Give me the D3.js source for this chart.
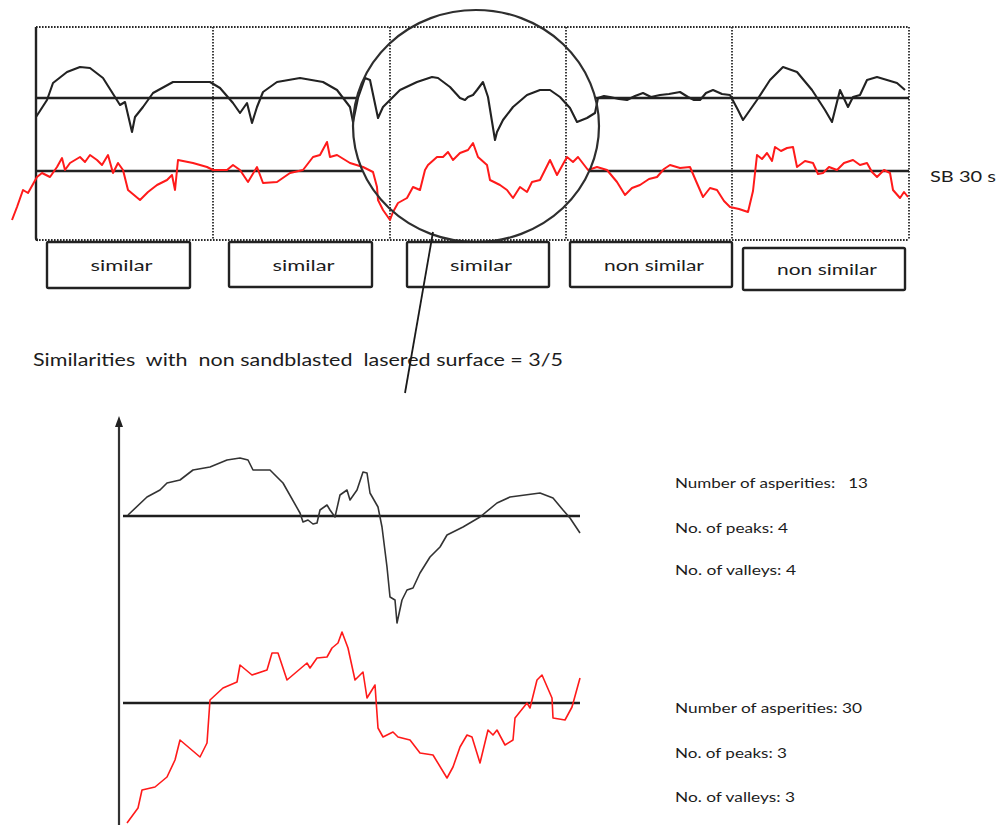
<!DOCTYPE html>
<html><head><meta charset="utf-8">
<script src="https://cdn.jsdelivr.net/npm/d3@7"></script>
<style>
html,body{margin:0;padding:0;background:#fff}
svg{display:block}
text{font-family:Lato,"Open Sans",sans-serif;fill:#1c1c1c;white-space:pre}
</style>
</head><body>
<svg id="c" width="1000" height="825"></svg>
<script>
// ---------- DATA ----------
// profile position (x) and height about the mean line (h), arbitrary units
const segmentEdges = [0, 177, 354, 530, 696, 873];
const segmentLabels = ["similar", "similar", "similar", "non similar", "non similar"];
const sampleLabel = "SB 30 s";
const summaryText = "Similarities  with  non sandblasted  lasered surface = 3/5";

const topBlack = [
  [0,-19],[11,-2],[17,15],[31,26],[44,31],[54,30],[67,20],[79,1],[84,-7],[89,-4],[96,-34],[99,-19],
  [107,-9],[117,5],[137,16],[157,16],[174,16],[184,10],[197,-5],[204,-15],[211,-5],[216,-25],[221,-9],
  [227,6],[241,16],[264,20],[287,16],[301,8],[314,-9],[317,-24],[322,0],[329,20],[334,18],[342,-20],
  [347,-9],[364,8],[381,16],[396,21],[402,20],[414,11],[424,0],[429,-2],[432,1],[437,3],[441,8],[447,16],
  [452,1],[459,-42],[461,-34],[467,-22],[477,-9],[491,3],[504,8],[514,8],[524,1],[534,-10],[541,-24],
  [551,-20],[559,-15],[562,0],[568,2],[574,1],[583,-1],[591,-2],[599,2],[607,5],[615,1],[624,3],
  [633,4],[644,6],[652,1],[658,-2],[664,-2],[670,5],[677,8],[686,4],[694,3],[702,-12],[707,-22],
  [714,-12],[721,-2],[734,18],[747,31],[761,26],[776,8],[789,-12],[796,-24],[804,8],[812,-9],[817,1],
  [824,3],[831,18],[841,21],[861,15],[869,8]
];
const topRed = [
  [-24,-49],[-19,-36],[-13,-19],[-8,-22],[1,-6],[6,-2],[14,-6],[21,4],[26,13],[29,1],[34,8],[44,14],
  [49,9],[54,16],[61,11],[66,6],[72,16],[77,-2],[82,8],[87,1],[92,-19],[104,-29],[112,-21],[121,-14],
  [131,-9],[136,-4],[139,-19],[142,11],[157,8],[171,4],[177,1],[191,1],[197,6],[204,1],[212,-11],
  [221,4],[227,-12],[241,-11],[254,-2],[267,1],[277,14],[284,16],[291,29],[294,14],[301,16],
  [314,8],[327,4],[337,-1],[341,-16],[342,-29],[347,-39],[354,-49],[357,-41],[362,-32],[371,-27],
  [377,-16],[384,-19],[389,1],[392,6],[401,14],[407,14],[412,19],[417,11],[424,18],[432,21],[437,28],
  [442,14],[451,6],[454,-9],[464,-14],[471,-19],[477,-27],[484,-16],[491,-21],[496,-11],[504,-9],
  [514,11],[521,-4],[531,14],[537,9],[542,14],[552,1],[561,4],[571,1],[581,-11],[589,-24],[596,-17],
  [604,-14],[613,-8],[621,-6],[628,2],[634,6],[644,3],[654,4],[660,-10],[667,-26],[674,-17],[681,-19],
  [688,-30],[694,-36],[703,-38],[712,-41],[717,-20],[721,16],[726,12],[731,18],[736,10],[739,24],
  [745,20],[751,23],[757,24],[761,4],[769,10],[777,8],[782,-3],[787,-2],[793,4],[801,1],[808,8],
  [817,11],[824,6],[831,8],[836,-1],[841,-6],[848,1],[854,-2],[857,-19],[864,-27],[868,-21],[872,-26]
];
const zoomBlack = [
  [5,1],[24,19],[37,26],[44,33],[57,36],[70,46],[87,49],[104,56],[117,58],[125,56],[130,46],[147,46],
  [160,33],[177,3],[180,-6],[185,-4],[190,-8],[194,-7],[197,6],[204,11],[207,6],[212,-1],[217,21],
  [224,26],[227,16],[234,26],[240,44],[244,43],[247,23],[255,9],[259,-11],[264,-51],[267,-81],
  [272,-84],[274,-107],[279,-84],[284,-74],[290,-72],[297,-57],[307,-41],[317,-31],[324,-19],
  [340,-11],[357,-1],[374,13],[387,19],[417,23],[430,18],[440,6],[447,-2],[457,-17]
];
const zoomRed = [
  [4,-120],[15,-105],[19,-87],[32,-84],[44,-74],[52,-57],[57,-37],[77,-54],[84,-40],[87,3],[100,15],
  [114,21],[117,38],[129,28],[144,33],[149,50],[155,50],[164,23],[184,40],[187,35],[194,45],[204,46],
  [209,55],[215,60],[219,71],[225,55],[232,23],[240,31],[244,5],[252,18],[255,-25],[260,-34],[270,-29],
  [275,-34],[287,-37],[297,-50],[310,-52],[324,-75],[330,-64],[337,-44],[344,-32],[349,-34],[357,-60],
  [365,-27],[370,-32],[374,-27],[382,-42],[390,-37],[392,-15],[404,0],[407,-5],[414,23],[419,28],
  [429,5],[430,-15],[442,-17],[449,-4],[457,25]
];
const statsBlack = ["Number of asperities:   13", "No. of peaks: 4", "No. of valleys: 4"];
const statsRed = ["Number of asperities: 30", "No. of peaks: 3", "No. of valleys: 3"];

// ---------- LAYOUT ----------
const svg = d3.select("#c");
const ink = "#222", red = "#ff1a1a";

const x1 = d3.scaleLinear().domain([0, 873]).range([36, 909]);
const yB1 = d3.scaleLinear().domain([-50, 50]).range([148, 48]);
const yR1 = d3.scaleLinear().domain([-50, 50]).range([221, 121]);
const x2 = d3.scaleLinear().domain([0, 457]).range([123, 580]);
const yB2 = d3.scaleLinear().domain([-120, 120]).range([636, 396]);
const yR2 = d3.scaleLinear().domain([-120, 120]).range([823, 583]);

const top0 = 27, bot0 = 240;
const dotted = {stroke: "#2a2a2a", "stroke-width": 1.8, "stroke-dasharray": "1.6,1.4"};
function attrs(sel, o){ for (const k in o) sel.attr(k, o[k]); return sel; }
attrs(svg.append("line").attr("x1", x1(0)).attr("x2", x1(873)).attr("y1", top0).attr("y2", top0), dotted);
attrs(svg.append("line").attr("x1", x1(0)).attr("x2", x1(873)).attr("y1", bot0).attr("y2", bot0), dotted);
segmentEdges.slice(1).forEach(e => {
  attrs(svg.append("line").attr("x1", x1(e)).attr("x2", x1(e)).attr("y1", top0).attr("y2", bot0), dotted);
});
svg.append("path").attr("d", `M${x1(0)},${top0} L${x1(0)},${bot0-2} Q${x1(0)},${bot0} ${x1(0)+2},${bot0}`)
  .attr("fill", "none").attr("stroke", ink).attr("stroke-width", 2.4);

const lens = {cx: 476, cy: 126, rx: 123, ry: 116};
function lensEdges(y){
  const t = (y - lens.cy) / lens.ry;
  const dx = lens.rx * Math.sqrt(Math.max(0, 1 - t*t));
  return [lens.cx - dx, lens.cx + dx];
}
[yB1(0), yR1(0)].forEach(y => {
  const [l, r] = lensEdges(y);
  svg.append("line").attr("x1", x1(0)).attr("x2", l).attr("y1", y).attr("y2", y).attr("stroke", ink).attr("stroke-width", 2.5);
  svg.append("line").attr("x1", r).attr("x2", x1(873)).attr("y1", y).attr("y2", y).attr("stroke", ink).attr("stroke-width", 2.5);
});

const lineTop = (ys) => d3.line().x(d => x1(d[0])).y(d => ys(d[1]));
svg.append("path").datum(topBlack).attr("d", lineTop(yB1)).attr("fill", "none").attr("stroke", ink).attr("stroke-width", 2.1).attr("stroke-linejoin", "round");
svg.append("path").datum(topRed).attr("d", lineTop(yR1)).attr("fill", "none").attr("stroke", red).attr("stroke-width", 2).attr("stroke-linejoin", "round");

svg.append("ellipse").attr("cx", lens.cx).attr("cy", lens.cy).attr("rx", lens.rx).attr("ry", lens.ry)
  .attr("fill", "none").attr("stroke", "#2e2e2e").attr("stroke-width", 2.2);

svg.append("text").attr("x", 930).attr("y", 182).attr("font-size", 15)
  .attr("textLength", 66).attr("lengthAdjust", "spacingAndGlyphs").text(sampleLabel);

const boxes = [
  {x: 47, y: 242, w: 143, h: 46, tw: 62},
  {x: 229, y: 242, w: 143, h: 45, tw: 62},
  {x: 407, y: 242, w: 142, h: 45, tw: 62},
  {x: 570, y: 242, w: 162, h: 45, tw: 100},
  {x: 743, y: 248, w: 162, h: 42, tw: 100}
];
boxes.forEach((b, i) => {
  svg.append("rect").attr("x", b.x).attr("y", b.y).attr("width", b.w).attr("height", b.h).attr("rx", 1.5)
    .attr("fill", "#fff").attr("stroke", ink).attr("stroke-width", 2.4);
  svg.append("text").attr("x", b.x + b.w/2 + 3 - b.tw/2).attr("y", b.y + b.h/2 + 6).attr("font-size", 16)
    .attr("textLength", b.tw).attr("lengthAdjust", "spacingAndGlyphs").text(segmentLabels[i]);
});

svg.append("text").attr("x", 33).attr("y", 366).attr("font-size", 16.5)
  .attr("textLength", 530).attr("lengthAdjust", "spacingAndGlyphs").text(summaryText);

svg.append("line").attr("x1", 433).attr("y1", 232).attr("x2", 405).attr("y2", 393).attr("stroke", "#1a1a1a").attr("stroke-width", 1.8);

// ---------- enlarged view ----------
svg.append("line").attr("x1", 119).attr("x2", 119).attr("y1", 825).attr("y2", 424).attr("stroke", "#333").attr("stroke-width", 2.2);
svg.append("path").attr("d", "M119,416 L115,427 L123,427 Z").attr("fill", "#222");

[yB2(0), yR2(0)].forEach(y => {
  svg.append("line").attr("x1", x2(0)).attr("x2", x2(457)).attr("y1", y).attr("y2", y).attr("stroke", "#1e1e1e").attr("stroke-width", 2.6);
});
const lineBot = (ys) => d3.line().x(d => x2(d[0])).y(d => ys(d[1]));
svg.append("path").datum(zoomBlack).attr("d", lineBot(yB2)).attr("fill", "none").attr("stroke", "#333").attr("stroke-width", 1.6).attr("stroke-linejoin", "round");
svg.append("path").datum(zoomRed).attr("d", lineBot(yR2)).attr("fill", "none").attr("stroke", red).attr("stroke-width", 1.6).attr("stroke-linejoin", "round");

const statW = {"Number of asperities:   13": 193, "Number of asperities: 30": 187, "No. of peaks: 4": 113, "No. of peaks: 3": 112, "No. of valleys: 4": 121, "No. of valleys: 3": 120};
const statY1 = [488, 533, 575], statY2 = [713, 758, 802];
statsBlack.forEach((s, i) => svg.append("text").attr("x", 675).attr("y", statY1[i]).attr("font-size", 14)
  .attr("textLength", statW[s]).attr("lengthAdjust", "spacingAndGlyphs").text(s));
statsRed.forEach((s, i) => svg.append("text").attr("x", 675).attr("y", statY2[i]).attr("font-size", 14)
  .attr("textLength", statW[s]).attr("lengthAdjust", "spacingAndGlyphs").text(s));
</script>
</body></html>
